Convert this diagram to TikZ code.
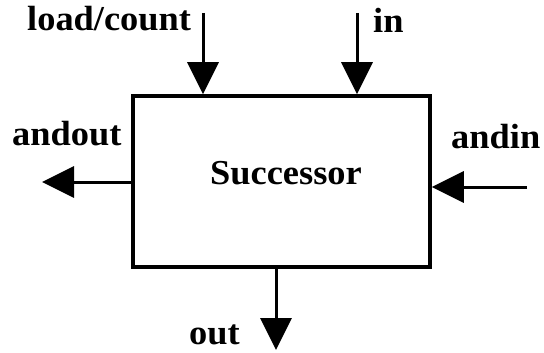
\documentclass[tikz,border=0pt]{standalone}
\usepackage{fontspec}
\setmainfont{Liberation Serif}
\usetikzlibrary{arrows.meta}
\begin{document}
\begin{tikzpicture}[x=1pt, y=-1pt,
  lbl/.style={inner sep=0pt, anchor=base west, xscale=1.04,
    font=\fontsize{35}{40}\selectfont\bfseries},
  blockbox/.style={draw, line width=3.5pt, minimum width=297pt,
    minimum height=171pt, inner sep=0pt},
  sig/.style={line width=3pt, -{Triangle[length=32pt, width=31pt]}}]
  \useasboundingbox (0,0) rectangle (544,353);

  % the block
  \node[blockbox] (blk) at (281.5,181.5) {};
  \node[lbl, anchor=base] (name) at (286,184) {Successor};

  % free ends of the signal lines
  \coordinate (lcTop) at (203,13);
  \coordinate (inTop) at (357,13);
  \coordinate (aoEnd) at (42,182);
  \coordinate (aiSrc) at (527,187);
  \coordinate (outEnd) at (276,350);

  % signals
  \draw[sig] (lcTop) -- (lcTop |- blk.north);
  \draw[sig] (inTop) -- (inTop |- blk.north);
  \draw[sig] (aoEnd -| blk.west) -- (aoEnd);
  \draw[sig] (aiSrc) -- (aiSrc -| blk.east);
  \draw[sig] (outEnd |- blk.south) -- (outEnd);

  % signal names
  \node[lbl] (lcL) at (27,31) {load/count};
  \node[lbl] (inL) at (373,33) {in};
  \node[lbl] (aoL) at (12,146) {andout};
  \node[lbl] (aiL) at (451,148) {andin};
  \node[lbl] (outL) at (189,344) {out};
\end{tikzpicture}
\end{document}
